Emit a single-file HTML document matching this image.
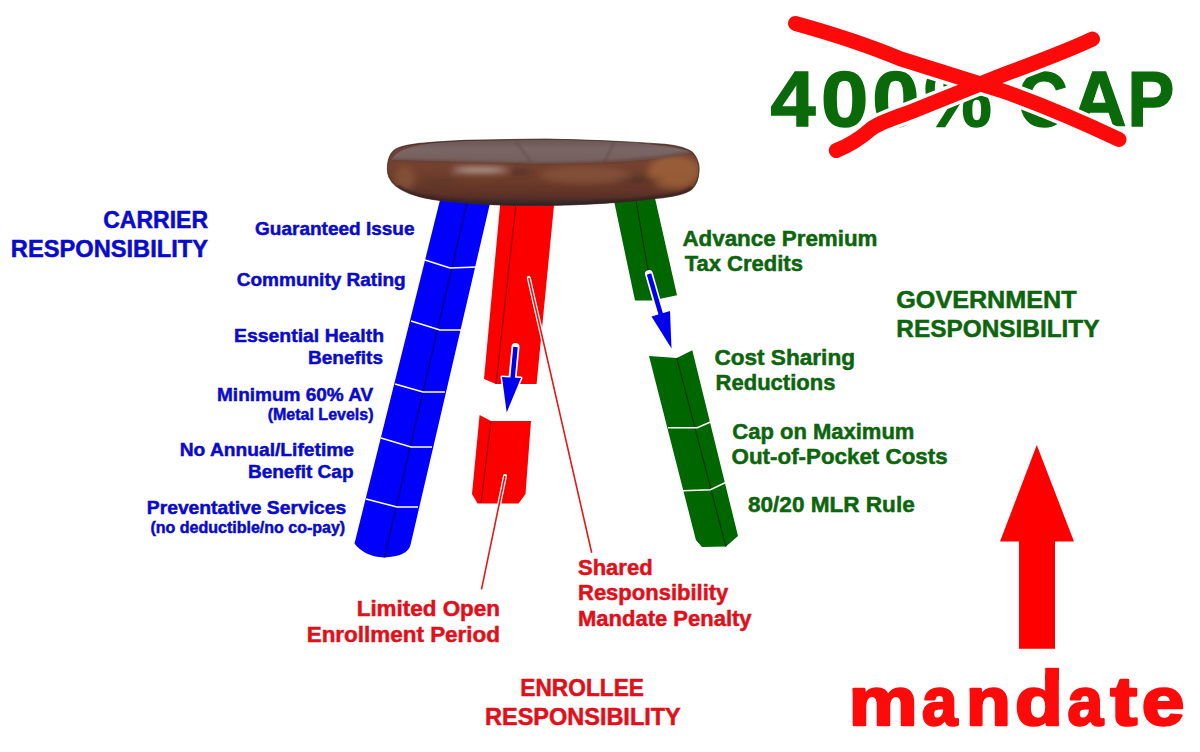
<!DOCTYPE html>
<html>
<head>
<meta charset="utf-8">
<style>
html,body{margin:0;padding:0;background:#fff;}
body{width:1200px;height:752px;overflow:hidden;position:relative;}
svg{position:absolute;left:0;top:0;display:block;}
text{font-family:"Liberation Sans",sans-serif;font-weight:bold;}
</style>
</head>
<body>
<svg width="1200" height="752" viewBox="0 0 1200 752">
<defs>
  <linearGradient id="seatSide" x1="0" y1="0" x2="0" y2="1">
    <stop offset="0" stop-color="#654240"/>
    <stop offset="0.35" stop-color="#754230"/>
    <stop offset="0.65" stop-color="#6c3c2a"/>
    <stop offset="0.88" stop-color="#522e28"/>
    <stop offset="1" stop-color="#3a282c"/>
  </linearGradient>
  <linearGradient id="seatTop" x1="0" y1="0" x2="0" y2="1">
    <stop offset="0" stop-color="#6a5452"/>
    <stop offset="0.4" stop-color="#7a6664"/>
    <stop offset="1" stop-color="#745e5c"/>
  </linearGradient>
  <filter id="blur3" x="-20%" y="-50%" width="140%" height="200%"><feGaussianBlur stdDeviation="3"/></filter>
  <filter id="blur1"><feGaussianBlur stdDeviation="1"/></filter>
</defs>

<!-- ===== BLUE LEG ===== -->
<g id="blueleg">
  <path d="M442,192 L492.6,192 L410.5,545 C409,552 400,557 384,557.5 C370,557 360,551 354.5,543.5 Z" fill="#0000fc"/>
  <path d="M469.5,192 L384.5,557.5" stroke="#00008a" stroke-width="1.5" fill="none"/>
  <g stroke="#fff" stroke-width="1.6" fill="none">
    <path d="M425,260 L450,268 L477,267"/>
    <path d="M411,321 L440,330 L461,330"/>
    <path d="M395,384 L423,392 L445,392"/>
    <path d="M381,438 L411,447 L432,447"/>
    <path d="M366,499 L397,507 L418,507"/>
  </g>
</g>

<!-- ===== RED LEG ===== -->
<g id="redleg">
  <path d="M501,195 L555,195 L536.6,384 L496,384 L484,379 Z" fill="#fc0000"/>
  <path d="M517,195 L496,384" stroke="#9a0000" stroke-width="1.2" fill="none"/>
  <path d="M479.6,415 L491,421 L531,421 L525.5,494 L518.6,503.4 L477.5,503.4 L472,494 Z" fill="#fc0000"/>
  <path d="M491,421 L481,503" stroke="#9a0000" stroke-width="1.2" fill="none"/>
</g>

<!-- ===== GREEN LEG ===== -->
<g id="greenleg">
  <path d="M612.8,195 L654.3,195 L677,295.3 L652,300.6 L635,300.6 Z" fill="#006600"/>
  <path d="M635,195 L653,299" stroke="#003300" stroke-width="1.2" fill="none"/>
  <path d="M649,356 L676.8,358 L692.3,350.2 L738,536 L726,546.5 L702,547 L695.9,540 Z" fill="#006600"/>
  <path d="M676.8,358 L725.8,546.5" stroke="#003a00" stroke-width="1.3" fill="none"/>
  <g stroke="#fff" stroke-width="1.6" fill="none">
    <path d="M668,427.8 L697.3,427.8 L710.5,422"/>
    <path d="M682.7,490.7 L710.5,489.8 L726.6,482"/>
  </g>
</g>

<!-- ===== SEAT ===== -->
<g id="seat">
  <clipPath id="seatClip"><path id="seatOutline" d="M387.4,169 C387.4,158 391,151 398,148 C408,144 425,142.3 465,140.3 L545,139 C580,139.5 620,141 665,144.3 C680,146 688,149 692,152 C697,157 699.5,164 699,171 C698.5,179 697,184 692,189 C686,194 672,197 655,198.5 C640,200.5 620,203 580,204.5 C560,205.5 530,205.8 500,205 C480,204.5 455,202 440,200.5 C420,198 405,193 396,186 C390,181 387.4,176 387.4,169 Z"/></clipPath>
  <path d="M387.4,169 C387.4,158 391,151 398,148 C408,144 425,142.3 465,140.3 L545,139 C580,139.5 620,141 665,144.3 C680,146 688,149 692,152 C697,157 699.5,164 699,171 C698.5,179 697,184 692,189 C686,194 672,197 655,198.5 C640,200.5 620,203 580,204.5 C560,205.5 530,205.8 500,205 C480,204.5 455,202 440,200.5 C420,198 405,193 396,186 C390,181 387.4,176 387.4,169 Z" fill="url(#seatSide)"/>
  <g clip-path="url(#seatClip)">
    <g filter="url(#blur3)">
      <ellipse cx="674" cy="172" rx="26" ry="17" fill="#a86a3c" opacity="0.7"/>
      <ellipse cx="585" cy="175" rx="45" ry="8" fill="#946044" opacity="0.5"/>
      <ellipse cx="480" cy="170" rx="28" ry="2.6" fill="#cfc2bd" opacity="0.85"/>
      <ellipse cx="520" cy="172" rx="12" ry="2.2" fill="#3a2a28" opacity="0.7"/>
      <ellipse cx="640" cy="180" rx="24" ry="2.2" fill="#3e2820" opacity="0.75"/>
      <ellipse cx="405" cy="178" rx="10" ry="12" fill="#8e5a3c" opacity="0.6"/>
      <ellipse cx="560" cy="190" rx="130" ry="6" fill="#6a3622" opacity="0.45"/>
      <ellipse cx="440" cy="182" rx="20" ry="5" fill="#5a3024" opacity="0.4"/>
    </g>
    <path d="M392,160 C396,150 410,144 465,140.3 L545,139 C600,140 665,143 692,152 C680,156 665,158 640,160 C610,162.5 580,163.7 545,163.7 C500,163.5 465,162 430,161 C410,160.5 398,160.5 392,160 Z" fill="url(#seatTop)"/>
    <path d="M516,142 L531,162 M614,143 L604,163" stroke="#5a4442" stroke-width="1.5" fill="none" opacity="0.6" filter="url(#blur1)"/>
    <path d="M392,160 C410,160.5 465,162 545,163.7 C600,163 650,160 692,152" stroke="#5a3a30" stroke-width="2" fill="none" opacity="0.6" filter="url(#blur1)"/>
  </g>
  <path d="M397,187 C405,193 420,198 440,200.5 C455,202 480,204.5 500,205 C530,205.8 560,205.5 580,204.5 C620,203 640,200.5 655,198.5 C672,197 686,194 692,189" stroke="#2e2222" stroke-width="5" fill="none" opacity="0.75" clip-path="url(#seatClip)" filter="url(#blur1)"/>
  <path d="M387.4,169 C387.4,158 391,151 398,148 C408,144 425,142.3 465,140.3 L545,139 C580,139.5 620,141 665,144.3 C680,146 688,149 692,152 C697,157 699.5,164 699,171 C698.5,179 697,184 692,189 C686,194 672,197 655,198.5 C640,200.5 620,203 580,204.5 C560,205.5 530,205.8 500,205 C480,204.5 455,202 440,200.5 C420,198 405,193 396,186 C390,181 387.4,176 387.4,169 Z" fill="none" stroke="#3a2620" stroke-width="1.2" opacity="0.7"/>
</g>

<!-- ===== POINTER LINES ===== -->
<g>
  <path d="M528.8,278 L591.7,552.8" stroke="#fff" stroke-width="4" stroke-linecap="round" fill="none"/>
  <path d="M505,476 L481.5,589.4" stroke="#fff" stroke-width="4" stroke-linecap="round" fill="none"/>
  <path d="M528.8,278 L591.7,552.8" stroke="#e01a1a" stroke-width="1.6" fill="none"/>
  <path d="M505,476 L481.5,589.4" stroke="#e01a1a" stroke-width="1.6" fill="none"/>
</g>

<!-- ===== BLUE ARROWS ===== -->
<g>
  <path d="M515.5,347 L512.6,377" stroke="#fff" stroke-width="8" stroke-linecap="round"/>
  <path d="M502,377 L521,378 L506.7,412.5 Z" fill="#fff" stroke="#fff" stroke-width="3" stroke-linejoin="round"/>
  <path d="M515.5,347 L512.6,378" stroke="#0000ee" stroke-width="4.5"/>
  <path d="M502,377 L521,378 L506.7,412.5 Z" fill="#0000ee"/>

  <path d="M649,274 L660.6,314.5" stroke="#fff" stroke-width="8" stroke-linecap="round"/>
  <path d="M649,274 L661,315" stroke="#0000ee" stroke-width="4.5"/>
  <path d="M651.5,316.5 L670,311 L671.5,348.5 Z" fill="#0000ee"/>
</g>

<!-- ===== RED BIG ARROW ===== -->
<path d="M1036.8,445 L1074,541.6 L1055,541.6 L1055,648.7 L1019,648.7 L1019,541.6 L1000,541.6 Z" fill="#ff0000"/>

<!-- ===== TEXT ===== -->
<g fill="#0a0acc" stroke="#0a0acc" stroke-width="0.5" text-anchor="end">
  <text x="208" y="227.5" font-size="23">CARRIER</text>
  <text x="208" y="256.8" font-size="23" textLength="197.2" lengthAdjust="spacingAndGlyphs">RESPONSIBILITY</text>
  <text x="414.5" y="234.5" font-size="19">Guaranteed Issue</text>
  <text x="405.7" y="286" font-size="19">Community Rating</text>
  <text x="384" y="341.7" font-size="19" textLength="150" lengthAdjust="spacingAndGlyphs">Essential Health</text>
  <text x="383" y="363.7" font-size="19">Benefits</text>
  <text x="373.3" y="400.8" font-size="19">Minimum 60% AV</text>
  <text x="373.5" y="419.5" font-size="16">(Metal Levels)</text>
  <text x="354" y="455.8" font-size="19" textLength="174.3" lengthAdjust="spacingAndGlyphs">No Annual/Lifetime</text>
  <text x="353.5" y="477.5" font-size="19">Benefit Cap</text>
  <text x="346.2" y="514.2" font-size="19" textLength="199.4" lengthAdjust="spacingAndGlyphs">Preventative Services</text>
  <text x="345.2" y="533.3" font-size="16">(no deductible/no co-pay)</text>
</g>

<g fill="#0c650c" stroke="#0c650c" stroke-width="0.5">
  <text x="682.4" y="245.7" font-size="22" textLength="195.1" lengthAdjust="spacingAndGlyphs">Advance Premium</text>
  <text x="684.7" y="271" font-size="22">Tax Credits</text>
  <text x="714.4" y="364.7" font-size="22" textLength="140.6" lengthAdjust="spacingAndGlyphs">Cost Sharing</text>
  <text x="715.6" y="389.8" font-size="22">Reductions</text>
  <text x="732.3" y="438.6" font-size="22">Cap on Maximum</text>
  <text x="731.6" y="464" font-size="22" textLength="216" lengthAdjust="spacingAndGlyphs">Out-of-Pocket Costs</text>
  <text x="748" y="512.4" font-size="22" textLength="166.7" lengthAdjust="spacingAndGlyphs">80/20 MLR Rule</text>
  <text x="896.3" y="307.8" font-size="24" textLength="180.2" lengthAdjust="spacingAndGlyphs">GOVERNMENT</text>
  <text x="896.3" y="337.1" font-size="24" textLength="203.2" lengthAdjust="spacingAndGlyphs">RESPONSIBILITY</text>
</g>

<g fill="#e0101a" stroke="#e0101a" stroke-width="0.5">
  <text x="500" y="616.4" font-size="22" text-anchor="end" textLength="143.3" lengthAdjust="spacingAndGlyphs">Limited Open</text>
  <text x="500" y="641.7" font-size="22" text-anchor="end" textLength="193.3" lengthAdjust="spacingAndGlyphs">Enrollment Period</text>
  <text x="578" y="575.3" font-size="22">Shared</text>
  <text x="578" y="600.4" font-size="22">Responsibility</text>
  <text x="578" y="626" font-size="22">Mandate Penalty</text>
  <text x="520.3" y="695.7" font-size="23" textLength="123.7" lengthAdjust="spacingAndGlyphs">ENROLLEE</text>
  <text x="485" y="725" font-size="23" textLength="195.8" lengthAdjust="spacingAndGlyphs">RESPONSIBILITY</text>
</g>

<!-- 400% CAP -->
<g fill="#0a6a0a" stroke="#0a6a0a" stroke-width="1.5" font-size="77">
  <text x="770.5" y="126" textLength="45.0" lengthAdjust="spacingAndGlyphs">4</text>
  <text x="821.1" y="126" textLength="47.3" lengthAdjust="spacingAndGlyphs">0</text>
  <text x="872.3" y="126" textLength="47.1" lengthAdjust="spacingAndGlyphs">0</text>
  <text x="924.2" y="126" textLength="67.5" lengthAdjust="spacingAndGlyphs">%</text>
  <text x="1017.8" y="126" textLength="49.8" lengthAdjust="spacingAndGlyphs">C</text>
  <text x="1071.9" y="126" textLength="54.4" lengthAdjust="spacingAndGlyphs">A</text>
  <text x="1127.6" y="126" textLength="46.8" lengthAdjust="spacingAndGlyphs">P</text>
</g>

<!-- red X -->
<g stroke="#fff" stroke-width="22" stroke-linecap="round" fill="none">
  <path d="M795.5,23.4 C830,33 870,46 900,58.6 L1000,90 C1040,104 1080,121 1119,139.5"/>
  <path d="M836.3,150.5 C850,145 862,137 871,129 C880,122 895,118 913,111 L1000,76 C1040,61 1070,50 1092.5,39"/>
</g>
<g stroke="#ff0a0a" stroke-width="15" stroke-linecap="round" fill="none">
  <path d="M795.5,23.4 C830,33 870,46 900,58.6 L1000,90 C1040,104 1080,121 1119,139.5"/>
  <path d="M836.3,150.5 C850,145 862,137 871,129 C880,122 895,118 913,111 L1000,76 C1040,61 1070,50 1092.5,39"/>
</g>

<!-- mandate -->
<g fill="#ff0a0a" stroke="#ff0a0a" stroke-width="2.6" stroke-linejoin="round" font-size="68">
  <text x="848.7" y="725" textLength="68.8" lengthAdjust="spacingAndGlyphs">m</text>
  <text x="922.0" y="725" textLength="35.4" lengthAdjust="spacingAndGlyphs">a</text>
  <text x="966.0" y="725" textLength="44.8" lengthAdjust="spacingAndGlyphs">n</text>
  <text x="1015.1" y="725" textLength="47.8" lengthAdjust="spacingAndGlyphs">d</text>
  <text x="1067.6" y="725" textLength="35.6" lengthAdjust="spacingAndGlyphs">a</text>
  <text x="1110.5" y="725" textLength="26.7" lengthAdjust="spacingAndGlyphs">t</text>
  <text x="1141.7" y="725" textLength="42.7" lengthAdjust="spacingAndGlyphs">e</text>
  <rect x="1045.2" y="667.8" width="13.8" height="12" stroke="none"/>
</g>
</svg>
</body>
</html>
